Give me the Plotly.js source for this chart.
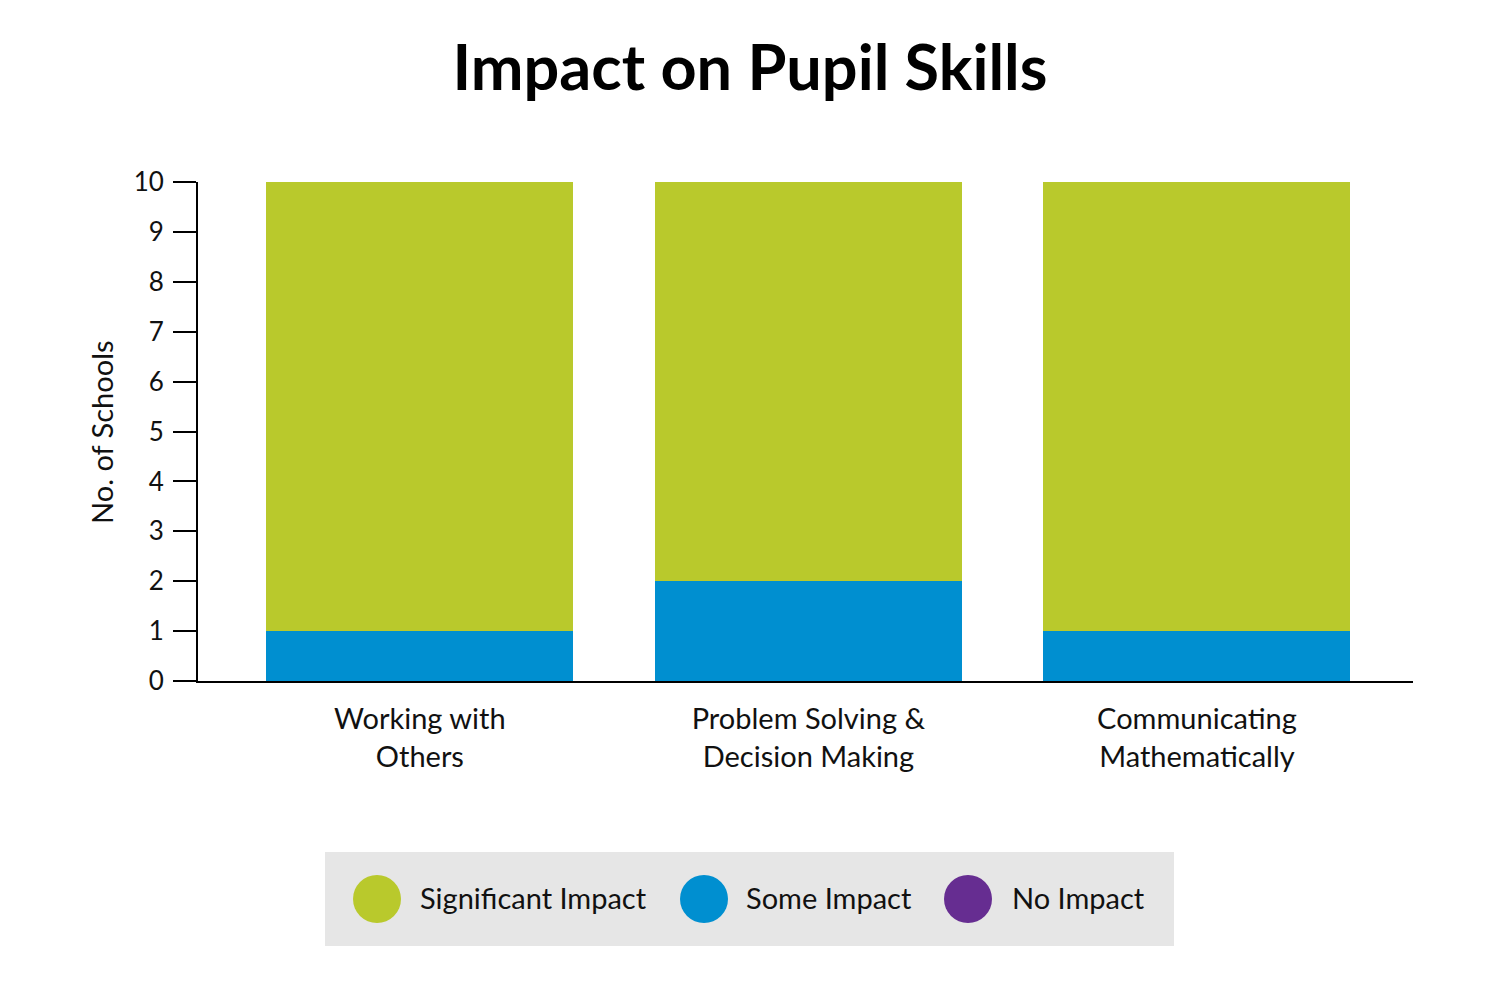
<!DOCTYPE html>
<html>
<head>
<meta charset="utf-8">
<script src="https://cdn.plot.ly/plotly-3.0.1.min.js"></script>
<style>html,body{margin:0;padding:0;background:#fff;}#chart{width:1500px;height:982px;}</style>
</head>
<body>
<div id="chart"></div>
<script>
const categories = ["Working with<br>Others", "Problem Solving &<br>Decision Making", "Communicating<br>Mathematically"];
const seriesNames = ["Significant Impact", "Some Impact", "No Impact"];
const seriesColors = ["#b9c92c", "#008fd0", "#662d91"];
const noImpact = [0, 0, 0];
const someImpact = [1, 2, 1];
const significantImpact = [9, 8, 9];
const yTicks = [0, 1, 2, 3, 4, 5, 6, 7, 8, 9, 10];

const FONT = "Lato, 'Noto Sans', sans-serif";

const traces = [
  {type: 'bar', name: seriesNames[2], x: categories, y: noImpact, marker: {color: seriesColors[2]}, width: 0.79, showlegend: false, hoverinfo: 'y+name'},
  {type: 'bar', name: seriesNames[1], x: categories, y: someImpact, marker: {color: seriesColors[1]}, width: 0.79, showlegend: false, hoverinfo: 'y+name'},
  {type: 'bar', name: seriesNames[0], x: categories, y: significantImpact, marker: {color: seriesColors[0]}, width: 0.79, showlegend: false, hoverinfo: 'y+name'}
];

// legend drawn in paper coordinates
const L = 198, T = 182, W = 1215, H = 499;
const px = v => (v - L) / W;
const py = v => (T + H - v) / H;
const circleX = [377, 704, 968];
const textX = [418, 744, 1010];
const legY = 899;

const shapes = [{
  type: 'rect', xref: 'paper', yref: 'paper',
  x0: px(325), x1: px(1174), y0: py(946), y1: py(852),
  fillcolor: '#e6e6e6', line: {width: 0}, layer: 'below'
}];
const annotations = [];
for (let i = 0; i < 3; i++) {
  shapes.push({
    type: 'circle', xref: 'paper', yref: 'paper',
    xsizemode: 'pixel', ysizemode: 'pixel',
    xanchor: px(circleX[i]), yanchor: py(legY),
    x0: -24, x1: 24, y0: -24, y1: 24,
    fillcolor: seriesColors[i], line: {width: 0}
  });
  annotations.push({
    xref: 'paper', yref: 'paper', x: px(textX[i]), y: py(legY - 2),
    xanchor: 'left', yanchor: 'middle', showarrow: false,
    text: seriesNames[i], font: {family: FONT, size: 29, color: '#111'}
  });
}
annotations.push({
  xref: 'paper', yref: 'paper', x: px(101), y: py(432),
  xanchor: 'center', yanchor: 'middle', showarrow: false, textangle: -90,
  text: 'No. of Schools', font: {family: FONT, size: 29, color: '#111'}
});

const layout = {
  width: 1500, height: 982,
  margin: {l: L, r: 1500 - L - W, t: T, b: 982 - T - H},
  paper_bgcolor: '#fff', plot_bgcolor: '#fff',
  barmode: 'stack',
  font: {family: FONT, color: '#111'},
  title: {text: '<b>Impact on Pupil Skills</b>', x: 0.5, xanchor: 'center', y: 1 - 68/982, yanchor: 'middle', yref: 'container',
          font: {family: FONT, size: 63, color: '#000'}},
  xaxis: {
    type: 'category', range: [-0.571, 2.556],
    showline: true, linecolor: '#000', linewidth: 2,
    ticks: '', showgrid: false, zeroline: false,
    ticklabelstandoff: 11,
    tickfont: {family: FONT, size: 29, color: '#111'}
  },
  yaxis: {
    range: [0, 10], tickvals: yTicks, ticktext: yTicks.map(String),
    showline: true, linecolor: '#000', linewidth: 2,
    ticks: 'outside', ticklen: 23, tickwidth: 2, tickcolor: '#000',
    showgrid: false, zeroline: false,
    ticklabelstandoff: 4,
    tickfont: {family: FONT, size: 26, color: '#111'}
  },
  shapes: shapes,
  annotations: annotations,
  showlegend: false
};

Plotly.newPlot('chart', traces, layout, {displayModeBar: false, staticPlot: true});
</script>
</body>
</html>
